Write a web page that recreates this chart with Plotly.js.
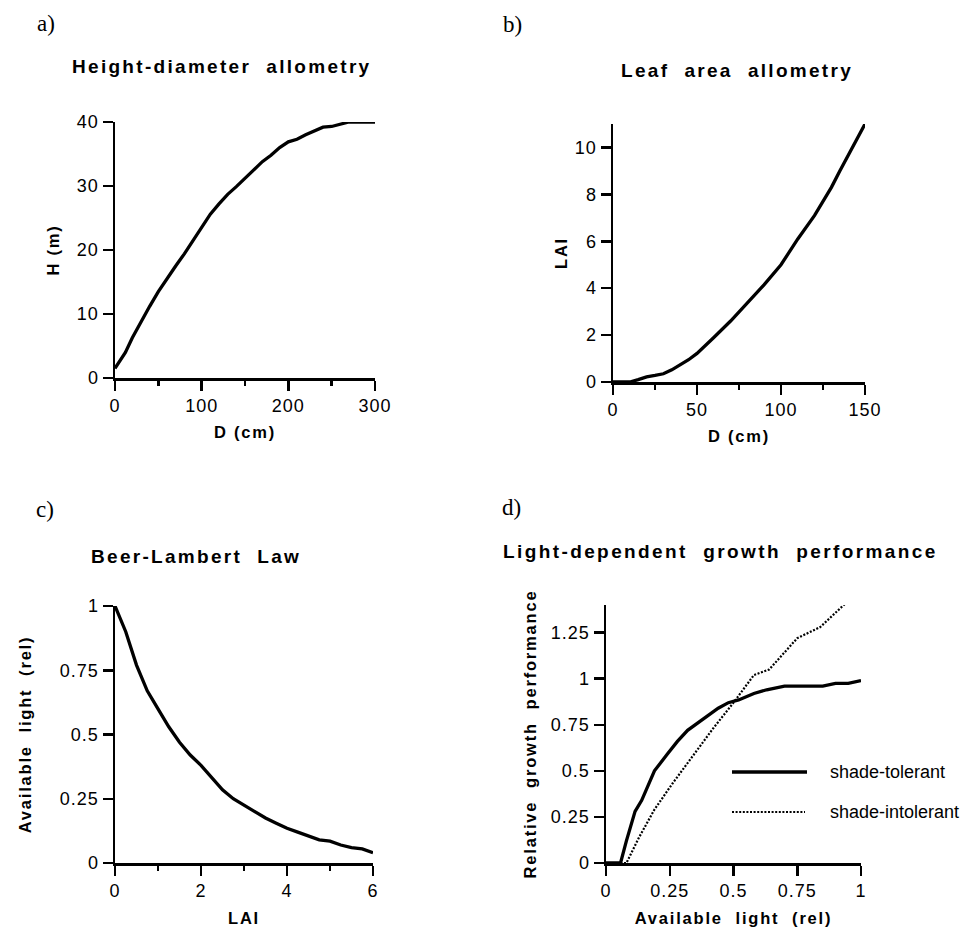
<!DOCTYPE html>
<html><head><meta charset="utf-8">
<script src="https://cdn.plot.ly/plotly-3.0.1.min.js"></script>
<style>
html,body{margin:0;padding:0;background:#fff;}
#chart{width:965px;height:930px;}
g[class$="tick"] text { letter-spacing: 1px; }
</style>
</head><body><div id="chart"></div>
<script>
// ---- a) Height-diameter allometry ----
const diamA   = [0,5,12,20,30,40,50,60,70,80,90,100,110,120,130,140,150,160,170,180,190,200,210,220,230,240,250,260,270,280,290,300];
const heightA = [1.5,2.6,4.0,6.3,8.8,11.2,13.5,15.6,17.5,19.4,21.5,23.6,25.6,27.2,28.7,29.9,31.2,32.6,33.8,34.8,36.0,36.9,37.3,38.0,38.6,39.2,39.3,39.6,40,40,40,40];
const ticksAx = [0,100,200,300];
const ticksAy = [0,10,20,30,40];

// ---- b) Leaf area allometry ----
const diamB = [0,10,15,20,25,30,35,40,45,50,55,60,70,80,90,100,110,120,130,135,140,145,150];
const laiB  = [0,0,0.1,0.22,0.28,0.35,0.52,0.72,0.95,1.22,1.55,1.9,2.6,3.35,4.15,5.0,6.1,7.1,8.3,9.0,9.65,10.3,11.0];
const ticksBx = [0,50,100,150];
const ticksBy = [0,2,4,6,8,10];

// ---- c) Beer-Lambert Law ----
const laiC   = [0,0.25,0.5,0.75,1,1.25,1.5,1.75,2,2.25,2.5,2.75,3,3.25,3.5,3.75,4,4.25,4.5,4.75,5,5.25,5.5,5.75,6];
const lightC = [1.0,0.90,0.77,0.67,0.60,0.53,0.47,0.42,0.38,0.33,0.285,0.25,0.225,0.2,0.175,0.155,0.135,0.12,0.105,0.09,0.085,0.07,0.06,0.055,0.04];
const ticksCx = [0,2,4,6];
const ticksCy = [0,0.25,0.5,0.75,1];
const labelsCy = ['0','0.25','0.5','0.75','1'];

// ---- d) Light-dependent growth performance ----
const lightTol  = [0,0.057,0.08,0.1,0.114,0.14,0.16,0.19,0.24,0.28,0.32,0.36,0.4,0.44,0.48,0.52,0.58,0.63,0.7,0.75,0.85,0.9,0.95,1.0];
const growthTol = [0,0,0.12,0.22,0.28,0.34,0.40,0.50,0.59,0.66,0.72,0.76,0.80,0.84,0.87,0.885,0.92,0.94,0.96,0.96,0.96,0.975,0.975,0.99];
const lightInt  = [0,0.08,0.13,0.19,0.26,0.34,0.42,0.5,0.58,0.64,0.75,0.84,0.94];
const growthInt = [0,0,0.14,0.29,0.43,0.58,0.73,0.87,1.02,1.05,1.22,1.28,1.41];
const ticksDx = [0,0.25,0.5,0.75,1];
const labelsDx = ['0','0.25','0.5','0.75','1'];
const ticksDy = [0,0.25,0.5,0.75,1,1.25];
const labelsDy = ['0','0.25','0.5','0.75','1','1.25'];
const seriesNames = ['shade-tolerant','shade-intolerant'];

const W = 965, Hh = 930;
const px = v => v / W;
const py = v => 1 - v / Hh;
const SANS = 'Liberation Sans, Arial, Helvetica, sans-serif';
const SERIF = 'Liberation Serif, Times New Roman, serif';
const nb = s => s.replace(/ /g, '\u00a0');
const spaced = (s, ls) => '<span style="letter-spacing:' + ls + 'px">' + nb(s) + '</span>';

function axis(dom, range, tickvals, ticktext, minorDtick, anchor, title, standoff) {
  const ax = {
    domain: dom, range: range, anchor: anchor,
    showline: true, linecolor: '#000', linewidth: 2.5,
    showgrid: false, zeroline: false,
    ticks: 'outside', ticklen: 10, tickwidth: 2.5, tickcolor: '#000',
    tickmode: 'array', tickvals: tickvals, ticktext: ticktext,
    tickfont: {family: SANS, size: 18, color: '#000'},
    fixedrange: true,
    title: {text: spaced(title, 1.8), font: {family: SANS, size: 16.5, color: '#000', weight: 'bold'}, standoff: standoff}
  };
  if (minorDtick) {
    ax.minor = {ticks: 'outside', ticklen: 5, tickwidth: 2.5, tickcolor: '#000', dtick: minorDtick, showgrid: false};
  }
  return ax;
}

const lineSolid = {color: '#000', width: 3.3};
const lineDot = {color: '#000', width: 2.2, dash: '2px,1.6px'};
const traces = [
  {x: diamA, y: heightA, xaxis: 'x', yaxis: 'y', mode: 'lines', line: lineSolid, cliponaxis: false, showlegend: false},
  {x: diamB, y: laiB, xaxis: 'x2', yaxis: 'y2', mode: 'lines', line: lineSolid, cliponaxis: false, showlegend: false},
  {x: laiC, y: lightC, xaxis: 'x3', yaxis: 'y3', mode: 'lines', line: lineSolid, cliponaxis: false, showlegend: false},
  {x: lightTol, y: growthTol, name: seriesNames[0], xaxis: 'x4', yaxis: 'y4', mode: 'lines', line: lineSolid, cliponaxis: false, showlegend: false},
  {x: lightInt, y: growthInt, name: seriesNames[1], xaxis: 'x4', yaxis: 'y4', mode: 'lines', line: lineDot, cliponaxis: false, showlegend: false}
];

const annotations = [];
function ann(text, x, y, size, family, bold, xanchor) {
  annotations.push({text: text, xref: 'paper', yref: 'paper', x: px(x), y: py(y),
    xanchor: xanchor || 'center', yanchor: 'middle', showarrow: false,
    font: {family: family, size: size, color: '#000', weight: bold ? 'bold' : 'normal'}});
}
ann('a)', 46, 23, 23, SERIF, false);
ann('b)', 512, 25, 23, SERIF, false);
ann('c)', 45, 510, 23, SERIF, false);
ann('d)', 511, 507, 23, SERIF, false);
ann(spaced('Height-diameter  allometry', 2.3), 221, 67, 19, SANS, true);
ann(spaced('Leaf  area  allometry', 2.3), 737, 70, 19, SANS, true);
ann(spaced('Beer-Lambert  Law', 2.3), 196, 556, 19, SANS, true);
ann(spaced('Light-dependent  growth  performance', 2.4), 720, 551, 19, SANS, true);
// legend (panel d)
ann(seriesNames[0], 828, 772, 18, SANS, false, 'left');
ann(seriesNames[1], 828, 812, 18, SANS, false, 'left');

const shapes = [
  {type: 'line', xref: 'paper', yref: 'paper', x0: px(732), x1: px(807), y0: py(772), y1: py(772), line: {color: '#000', width: 3.3}},
  {type: 'line', xref: 'paper', yref: 'paper', x0: px(732), x1: px(805), y0: py(812), y1: py(812), line: lineDot}
];

const layout = {
  width: W, height: Hh,
  margin: {l: 0, r: 0, t: 0, b: 0},
  paper_bgcolor: '#fff', plot_bgcolor: '#fff',
  showlegend: false,
  font: {family: SANS, color: '#000'},
  xaxis:  axis([px(115), px(375)], [0, 300], ticksAx, ticksAx.map(String), 50, 'y', 'D (cm)', 12),
  yaxis:  axis([py(378), py(122)], [0, 40], ticksAy, ticksAy.map(String), null, 'x', 'H (m)', 13),
  xaxis2: axis([px(613), px(865)], [0, 150], ticksBx, ticksBx.map(String), 25, 'y2', 'D (cm)', 12),
  yaxis2: axis([py(382), py(124)], [0, 11], ticksBy, ticksBy.map(String), null, 'x2', 'LAI', 3),
  xaxis3: axis([px(115), px(373)], [0, 6], ticksCx, ticksCx.map(String), 1, 'y3', 'LAI', 13),
  yaxis3: axis([py(863), py(606)], [0, 1], ticksCy, labelsCy, null, 'x3', 'Available  light  (rel)', 24),
  xaxis4: axis([px(606), px(861)], [0, 1], ticksDx, labelsDx, null, 'y4', 'Available  light  (rel)', 13),
  yaxis4: axis([py(863), py(605)], [0, 1.4], ticksDy, labelsDy, null, 'x4', 'Relative  growth  performance', 10),
  annotations: annotations,
  shapes: shapes
};

Plotly.newPlot('chart', traces, layout, {displayModeBar: false, staticPlot: true});
</script>
</body></html>
